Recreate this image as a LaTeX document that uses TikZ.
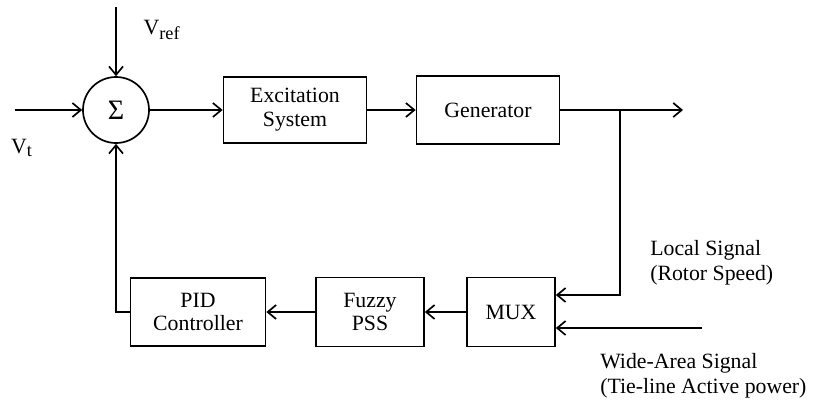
\documentclass[tikz,border=0pt]{standalone}
\usepackage{fontspec}
\setmainfont{Liberation Serif}
\usetikzlibrary{arrows.meta}
\tikzset{
	block/.style={draw, line width=1.2pt, inner sep=0pt, align=center, font=\fontsize{15.5}{17}\selectfont},
	sig/.style={-{Straight Barb[length=6pt,width=10pt]}, line width=1.2pt},
	lbl/.style={inner sep=0pt, font=\fontsize{15.5}{17.5}\selectfont}
}
\begin{document}
\begin{tikzpicture}[x=0.025cm, y=-0.025cm]
			\useasboundingbox (0,0) rectangle (814,409);
			% forward path
			\node [block, circle, minimum size=1.65cm, font=\fontsize{20}{22}\selectfont] (sum) at (116,110) {Σ};
			\node [block, minimum width=3.575cm, minimum height=1.65cm] (exc) at (295,110) {Excitation\\System};
			\node [block, minimum width=3.575cm, minimum height=1.7cm] (gen) at (488,110) {Generator};
			% feedback path
			\node [block, minimum width=2.2cm, minimum height=1.725cm] (mux) at (511,312) {MUX};
			\node [block, minimum width=2.7cm, minimum height=1.725cm] (pss) at (370,312) {Fuzzy\\PSS};
			\node [block, minimum width=3.375cm, minimum height=1.7cm] (pid) at (198,312) {PID\\Controller};
			% labels
			\node [lbl] (vreflbl) at (162,30) {V\textsubscript{\fontsize{13}{15}\selectfont ref}};
			\node [lbl] (vtlbl) at (22,148) {V\textsubscript{\fontsize{13}{15}\selectfont t}};
			\node [lbl, anchor=west, align=left] (loclbl) at (650,263) {Local Signal\\(Rotor Speed)};
			\node [lbl, anchor=west, align=left] (walbl) at (600,376) {Wide-Area Signal\\(Tie-line Active power)};
			% free ends
			\coordinate (vref) at (116,7);
			\coordinate (vt) at (15,110);
			\coordinate (tap) at (620,110);
			\coordinate (out) at (683,110);
			\coordinate (loc) at (620,295);
			\coordinate (wa) at (702,328);
			% connectors
			\draw [sig] (vref) -- (sum.north);
			\draw [sig] (vt) -- (sum.west);
			\draw [sig] (sum.east) -- (exc.west);
			\draw [sig] (exc.east) -- (gen.west);
			\draw [sig] (gen.east) -- (out);
			\draw [sig] (tap) -- (loc) -- (loc -| mux.east);
			\draw [sig] (wa) -- (wa -| mux.east);
			\draw [sig] (mux.west) -- (pss.east);
			\draw [sig] (pss.west) -- (pid.east);
			\draw [sig] (pid.west) -| (sum.south);
		\end{tikzpicture}
\end{document}
